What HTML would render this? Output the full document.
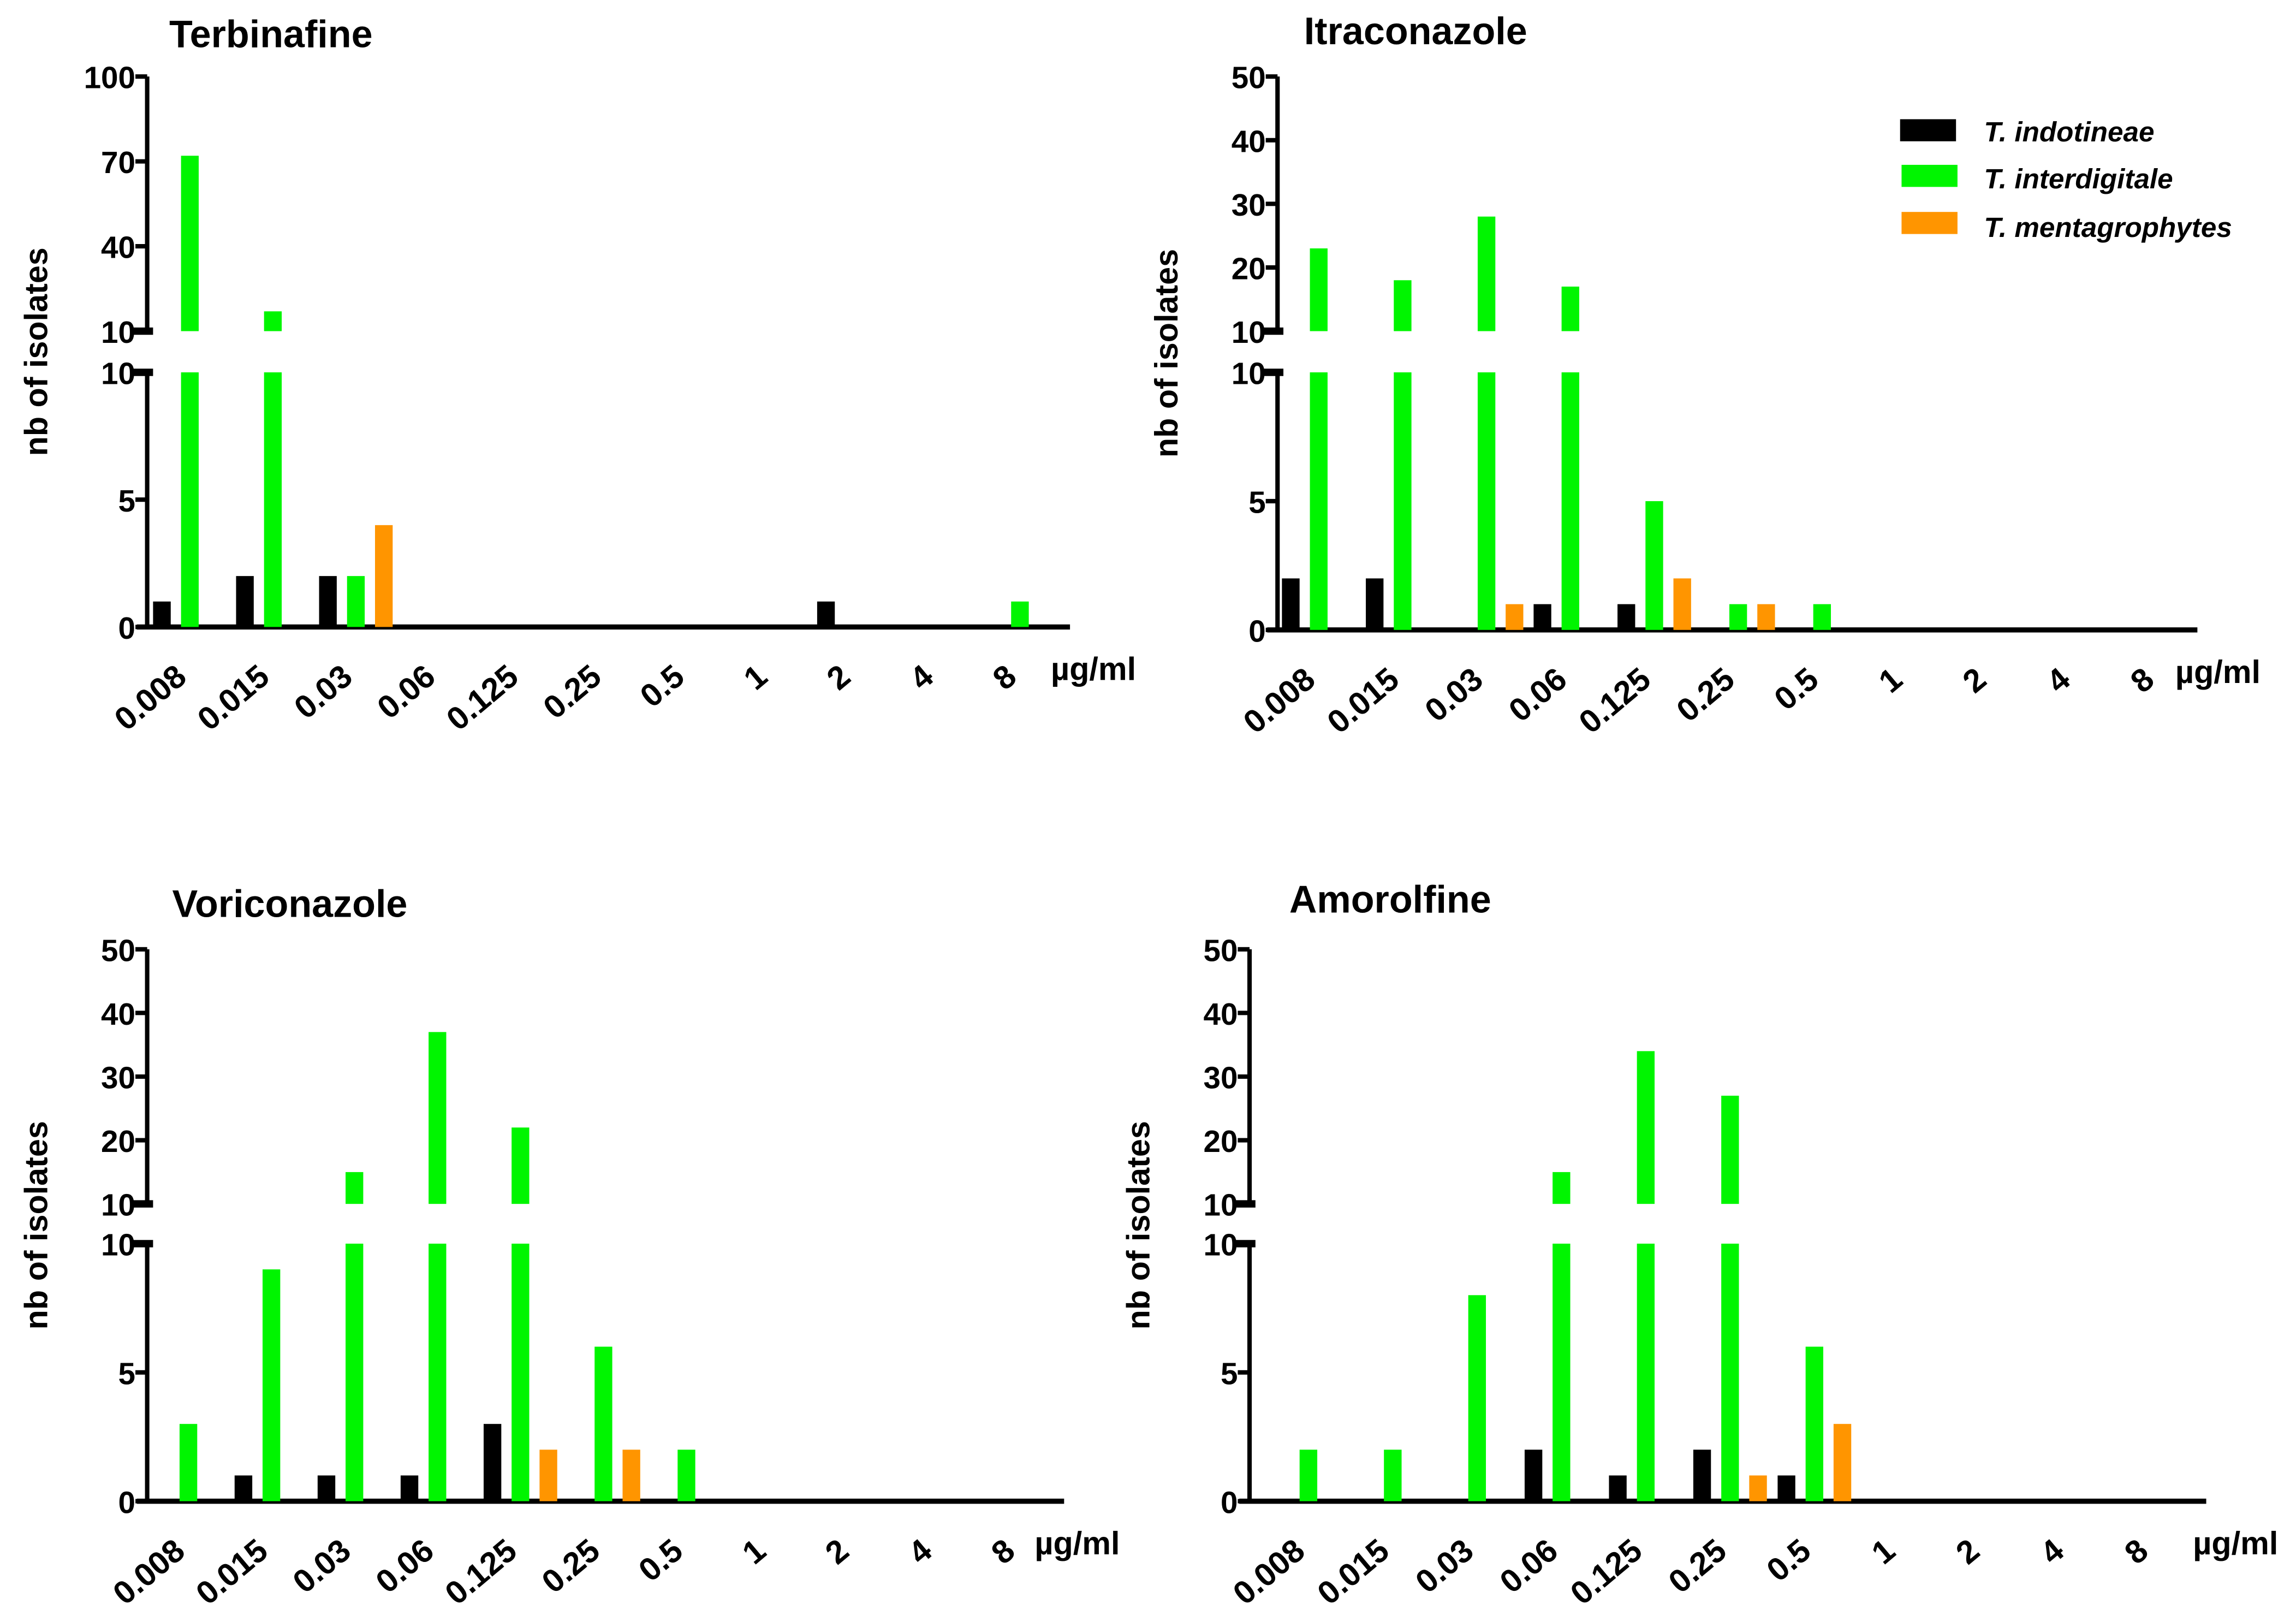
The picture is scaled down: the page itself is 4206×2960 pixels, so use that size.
<!DOCTYPE html>
<html><head><meta charset="utf-8"><style>
html,body{margin:0;padding:0;background:#fff;}
svg{display:block;}
text{font-family:"Liberation Sans",sans-serif;font-weight:bold;fill:#000;}
</style></head><body>
<svg id="fig" width="4206" height="2960" viewBox="0 0 1560 1098" preserveAspectRatio="none" xmlns="http://www.w3.org/2000/svg">
<g id="legend">
 <rect x="1291" y="81" width="38" height="15" fill="#000"/>
 <text x="1348" y="96" font-size="19" font-style="italic">T. indotineae</text>
 <rect x="1292" y="112" width="38" height="15" fill="#00f500"/>
 <text x="1348" y="128" font-size="19" font-style="italic">T. interdigitale</text>
 <rect x="1292" y="144" width="38" height="15" fill="#ff9500"/>
 <text x="1348" y="161" font-size="19" font-style="italic">T. mentagrophytes</text>
</g>
</svg>
<script>
const categories = ["0.008","0.015","0.03","0.06","0.125","0.25","0.5","1","2","4","8"];

const terbBlack  = [1,2,2,0,0,0,0,0,1,0,0];
const terbGreen  = [72,17,2,0,0,0,0,0,0,0,1];
const terbOrange = [0,0,4,0,0,0,0,0,0,0,0];
const terbUpperTicks = [10,40,70,100];

const itraBlack  = [2,2,0,1,1,0,0,0,0,0,0];
const itraGreen  = [23,18,28,17,5,1,1,0,0,0,0];
const itraOrange = [0,0,1,0,2,1,0,0,0,0,0];

const voriBlack  = [0,1,1,1,3,0,0,0,0,0,0];
const voriGreen  = [3,9,15,37,22,6,2,0,0,0,0];
const voriOrange = [0,0,0,0,2,2,0,0,0,0,0];

const amorBlack  = [0,0,0,2,1,2,1,0,0,0,0];
const amorGreen  = [2,2,8,15,34,27,6,0,0,0,0];
const amorOrange = [0,0,0,0,0,1,3,0,0,0,0];

const upperTicks50 = [10,20,30,40,50];
const lowerTicks = [0,5,10];

const NS = "http://www.w3.org/2000/svg";
const svg = document.getElementById("fig");
function mk(tag, attrs, parent){
  const e = document.createElementNS(NS, tag);
  for (const k in attrs) e.setAttribute(k, attrs[k]);
  (parent||svg).appendChild(e);
  return e;
}

function panel(p){
  const g = mk("g", {});
  
  
  const yLow = v => p.y0 - (v/10)*(p.y0 - p.y10l);
  const yUp = v => p.y10u - ((v-10)/(p.upMax-10))*(p.y10u - p.yTop);
  const xg = i => p.gx0 + i*p.step;

  const title = mk("text", {x:p.titleX, y:p.titleY, "font-size":26}, g);
  title.textContent = p.title;
  
  

  const yt = mk("text", {x:0, y:0, "font-size":22, "text-anchor":"middle", transform:`translate(${p.ax-68},${(p.yTop+p.y0)/2}) rotate(-90)`}, g);
  yt.textContent = "nb of isolates";
  
  

  const ya = mk("path", {d:`M${p.ax} ${p.yTop}V${p.y10u}M${p.ax} ${p.y10l}V${p.y0+1}`, stroke:"#000", "stroke-width":3, fill:"none"}, g);
  
  
  const xa = mk("line", {x1:p.ax-7, x2:p.xEnd, y1:p.y0, y2:p.y0, stroke:"#000", "stroke-width":3.5}, g);
  
  

  p.upTicks.forEach(v=>{
    const y = yUp(v);
    const brk = v===10;
    const t = mk("line", {x1:p.ax-(brk?11:8), x2:p.ax+(brk?4:0), y1:y, y2:y, stroke:"#000", "stroke-width":brk?5:3}, g);
    
    
    const l = mk("text", {x:p.ax-8, y:y+8, "font-size":21, "text-anchor":"end"}, g);
    l.textContent = v;
    
    
  });
  lowerTicks.forEach(v=>{
    const y = yLow(v);
    const brk = v===10;
    const t = mk("line", {x1:p.ax-(brk?11:8), x2:p.ax+(brk?4:0), y1:y, y2:y, stroke:"#000", "stroke-width":brk?5:3}, g);
    
    
    const l = mk("text", {x:p.ax-8, y:y+8, "font-size":21, "text-anchor":"end"}, g);
    l.textContent = v;
    
    
  });

  const series = [[p.black,"#000",0,"indotineae"],[p.green,"#00f500",19,"interdigitale"],[p.orange,"#ff9500",38,"mentagrophytes"]];
  series.forEach(([vals,col,off,sp])=>{
    vals.forEach((v,i)=>{
      if(!v) return;
      const x = xg(i)+off;
      const top = yLow(Math.min(v,10));
      const r = mk("rect", {x:x, y:top, width:12, height:p.y0-top, fill:col}, g);
      
      
      if(v>10){
        const tu = yUp(v);
        const r2 = mk("rect", {x:x, y:tu, width:12, height:p.y10u-tu, fill:col}, g);
        
        
      }
    });
  });

  categories.forEach((c,i)=>{
    const x = xg(i)+24, y = p.y0+36;
    const t = mk("text", {x:0, y:0, "font-size":22, "text-anchor":"end", transform:`translate(${x},${y}) rotate(-40)`}, g);
    t.textContent = c;
    
    
  });
  const u = mk("text", {x:p.unitX, y:p.y0+36, "font-size":22}, g);
  u.textContent = "µg/ml";
  
  
}

panel({name:"terbinafine", title:"Terbinafine", titleX:115, titleY:32, ax:100, yTop:52, y10u:225, y10l:253, y0:426, upMax:100, upTicks:terbUpperTicks, gx0:104, step:56.4, xEnd:727, unitX:714, black:terbBlack, green:terbGreen, orange:terbOrange});
panel({name:"itraconazole", title:"Itraconazole", titleX:886, titleY:30, ax:868, yTop:52, y10u:225, y10l:253, y0:428, upMax:50, upTicks:upperTicks50, gx0:871, step:57, xEnd:1493, unitX:1478, black:itraBlack, green:itraGreen, orange:itraOrange});
panel({name:"voriconazole", title:"Voriconazole", titleX:117, titleY:623, ax:100, yTop:645, y10u:818, y10l:845, y0:1020, upMax:50, upTicks:upperTicks50, gx0:103, step:56.4, xEnd:723, unitX:703, black:voriBlack, green:voriGreen, orange:voriOrange});
panel({name:"amorolfine", title:"Amorolfine", titleX:876, titleY:620, ax:849, yTop:645, y10u:818, y10l:845, y0:1020, upMax:50, upTicks:upperTicks50, gx0:864, step:57.3, xEnd:1499, unitX:1490, black:amorBlack, green:amorGreen, orange:amorOrange});
</script>
</body></html>
